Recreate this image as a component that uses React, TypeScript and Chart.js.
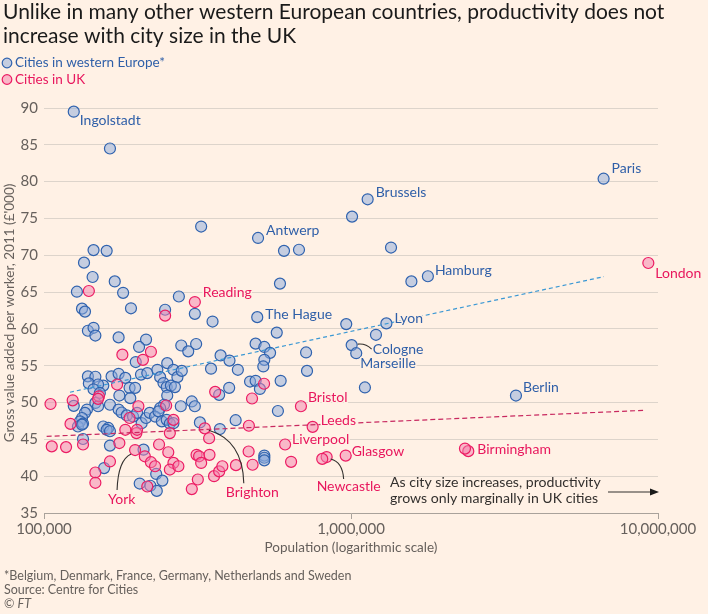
import React, { useEffect, useRef } from 'react';
import { Chart, registerables } from 'chart.js';
Chart.register(...registerables);

// ---------- DATA ----------
// Labelled European cities come first (names aligned with first entries)
const europeNames = ['Ingolstadt', 'Brussels', 'Antwerp', 'Paris', 'Hamburg', 'The Hague', 'Lyon', 'Cologne', 'Marseille', 'Berlin'];
const europePop = [
  125000, 1133000, 498000, 6650000, 1780000, 495000, 1304000, 1005000, 1040000, 3446000,
  164000, 325000, 145000, 135000, 160000, 144000, 170000, 128000, 133000, 136000,
  139000, 145000, 147000, 181000, 192000, 275000, 248000, 310000, 354000, 587000,
  573000, 175000, 215000, 204000, 199000, 280000, 295000, 313000, 376000, 402000,
  428000, 350000, 489000, 522000, 545000, 522000, 518000, 590000, 469000, 489000,
  505000, 401000, 372000, 578000, 421000, 374000, 322000, 522000, 522000, 522000,
  1008000, 605000, 677000, 1350000, 1573000, 965000, 1206000, 714000, 719000, 1110000,
  139000, 147000, 140000, 156000, 166000, 175000, 184000, 207000, 217000, 234000,
  239000, 252000, 264000, 272000, 281000, 150000, 145000, 152000, 190000, 198000,
  245000, 251000, 259000, 267000, 176000, 191000, 252000, 125000, 147000, 150000,
  164000, 246000, 239000, 279000, 303000, 310000, 138000, 136000, 133000, 131000,
  129000, 134000, 133000, 175000, 179000, 186000, 195000, 201000, 208000, 215000,
  221000, 230000, 236000, 242000, 251000, 257000, 264000, 156000, 162000, 160000,
  164000, 134000, 164000, 211000, 157000, 232000, 243000, 222000, 233000, 205000,
];
const europeGva = [
  89.5, 77.6, 72.35, 80.4, 67.15, 61.6, 60.75, 57.8, 56.7, 50.95,
  84.5, 73.9, 70.7, 69.0, 70.6, 67.05, 66.45, 65.05, 62.75, 62.35,
  59.75, 60.15, 59.1, 64.9, 62.8, 64.4, 62.6, 62.05, 61.0, 66.15,
  59.5, 58.85, 58.55, 57.55, 55.5, 57.75, 56.95, 57.95, 56.4, 55.7,
  54.45, 54.6, 58.0, 57.55, 56.75, 55.8, 54.9, 52.95, 52.85, 52.95,
  51.85, 52.0, 51.05, 48.85, 47.6, 46.4, 47.3, 42.8, 42.5, 42.15,
  75.25, 70.6, 70.75, 71.05, 66.45, 60.65, 59.2, 56.8, 54.3, 52.05,
  53.55, 53.5, 52.6, 52.3, 53.55, 53.9, 53.35, 53.8, 54.0, 54.45,
  53.45, 55.35, 54.45, 53.45, 54.3, 52.45, 51.8, 51.3, 52.0, 52.0,
  52.65, 52.1, 52.3, 52.1, 50.95, 50.6, 50.95, 49.55, 49.95, 49.5,
  49.7, 49.7, 49.25, 49.5, 50.15, 49.5, 49.05, 48.6, 47.9, 47.45,
  46.75, 47.15, 47.0, 49.05, 48.65, 48.25, 48.1, 48.6, 47.2, 47.9,
  48.6, 48.1, 48.8, 47.45, 47.65, 47.15, 47.2, 46.75, 46.55, 46.3,
  46.1, 45.05, 44.15, 43.6, 41.1, 40.3, 39.4, 38.7, 38.0, 39.0,
];

const ukNames = ['Reading', 'York', 'Brighton', 'Bristol', 'Leeds', 'Liverpool', 'Glasgow', 'Newcastle', 'Birmingham', 'London'];
const ukPop = [
  310000, 198000, 334000, 687000, 750000, 610000, 961000, 833000, 2410000, 9300000,
  806000, 2351000, 140000, 248000, 223000, 180000, 210000, 173000, 521000, 361000,
  476000, 151000, 150000, 105000, 124000, 122000, 106000, 118000, 134000, 147000,
  147000, 164000, 176000, 184000, 200000, 201000, 190000, 203000, 257000, 250000,
  264000, 237000, 213000, 223000, 230000, 254000, 264000, 257000, 274000, 217000,
  303000, 317000, 314000, 320000, 346000, 325000, 358000, 372000, 381000, 422000,
  345000, 465000, 464000, 478000, 638000,
];
const ukGva = [
  63.65, 43.55, 46.5, 49.5, 46.7, 44.3, 42.8, 42.6, 43.4, 68.95,
  42.35, 43.75, 65.15, 61.8, 56.9, 56.5, 55.8, 52.45, 52.55, 51.45,
  50.55, 50.85, 50.5, 49.8, 50.3, 47.1, 44.05, 43.95, 44.3, 40.5,
  39.1, 42.0, 44.5, 46.3, 45.85, 46.3, 47.9, 49.5, 45.85, 49.6,
  47.65, 44.3, 42.7, 41.9, 41.35, 43.25, 41.8, 40.9, 41.35, 38.6,
  38.25, 39.55, 42.9, 42.7, 42.9, 41.8, 40.0, 40.65, 41.35, 41.5,
  45.15, 46.85, 43.35, 41.55, 41.95,
];

// Trend lines (endpoints)
const europeTrendPop = [121500, 6670000];
const europeTrendGva = [51.4, 67.1];
const ukTrendPop = [102000, 9120000];
const ukTrendGva = [45.4, 48.95];

const xTickValues = [100000, 1000000, 10000000];
const yMin = 35;
const yMax = 90;

const titleLines = [
  'Unlike in many other western European countries, productivity does not',
  'increase with city size in the UK',
];
const legendLabels = ['Cities in western Europe*', 'Cities in UK'];
const noteLines = ['As city size increases, productivity', 'grows only marginally in UK cities'];
const footLines = ['*Belgium, Denmark, France, Germany, Netherlands and Sweden', 'Source: Centre for Cities'];
const yTitle = "Gross value added per worker, 2011 (£'000)";
const xTitle = 'Population (logarithmic scale)';

// ---------- STYLE ----------
const FONT = 'Lato, "Noto Sans", sans-serif';
const BG = '#fff1e5';
const BLUE_FILL = 'rgba(139,169,219,0.5)';
const BLUE_LINE = '#2f62ae';
const BLUE_TEXT = '#2f5fa8';
const RED_FILL = 'rgba(243,127,171,0.5)';
const RED_LINE = '#ec1c63';
const RED_TEXT = '#e8175d';
const GREY_TEXT = '#66605c';
const DARK_TEXT = '#33302e';

const labelStyle: Record<string, { dx: number; dy: number }> = {
  Ingolstadt: { dx: 6, dy: 9 },
  Brussels: { dx: 8, dy: -7 },
  Antwerp: { dx: 8, dy: -7 },
  Paris: { dx: 8, dy: -10 },
  Hamburg: { dx: 7, dy: -6 },
  'The Hague': { dx: 8, dy: -3 },
  Lyon: { dx: 8, dy: -5 },
  Cologne: { dx: 21, dy: 4 },
  Marseille: { dx: 4, dy: 10 },
  Berlin: { dx: 7, dy: -8 },
  Reading: { dx: 8, dy: -10 },
  York: { dx: -27, dy: 49 },
  Brighton: { dx: 21, dy: 64 },
  Bristol: { dx: 7, dy: -9 },
  Leeds: { dx: 8, dy: -6 },
  Liverpool: { dx: 7, dy: -5 },
  Glasgow: { dx: 6, dy: -4 },
  Newcastle: { dx: -10, dy: 29 },
  Birmingham: { dx: 9, dy: -2 },
  London: { dx: 7, dy: 10 },
};

// leader curves: start, control, end offsets relative to point
const leaders: Record<string, number[]> = {
  York: [-4, 4, -17, 10, -18, 40],
  Brighton: [4, 2, 38, 12, 39, 55],
  Cologne: [6, -1, 14, -2, 20, 4],
  Newcastle: [4, 2, 16, 5, 17, 22],
};

const decorPlugin = {
  id: 'decor',
  beforeDraw(chart: any) {
    const ctx = chart.ctx;
    ctx.save();
    ctx.fillStyle = BG;
    ctx.fillRect(0, 0, chart.width, chart.height);
    ctx.restore();
  },
  afterDatasetsDraw(chart: any) {
    const ctx = chart.ctx;
    const xs = chart.scales.x;
    const ys = chart.scales.y;
    ctx.save();
    ctx.font = `14px ${FONT}`;
    ctx.textBaseline = 'middle';
    ctx.textAlign = 'left';
    ctx.lineJoin = 'round';
    const drawLabel = (name: string, pop: number, gva: number, color: string) => {
      const px = xs.getPixelForValue(pop);
      const py = ys.getPixelForValue(gva);
      const st = labelStyle[name];
      const ld = leaders[name];
      if (ld) {
        ctx.beginPath();
        ctx.strokeStyle = '#33302e';
        ctx.lineWidth = 1.1;
        ctx.moveTo(px + ld[0], py + ld[1]);
        ctx.quadraticCurveTo(px + ld[2], py + ld[3], px + ld[4], py + ld[5]);
        ctx.stroke();
      }
      ctx.strokeStyle = BG;
      ctx.lineWidth = 3;
      ctx.strokeText(name, px + st.dx, py + st.dy);
      ctx.fillStyle = color;
      ctx.fillText(name, px + st.dx, py + st.dy);
    };
    europeNames.forEach((n, i) => drawLabel(n, europePop[i], europeGva[i], BLUE_TEXT));
    ukNames.forEach((n, i) => drawLabel(n, ukPop[i], ukGva[i], RED_TEXT));

    // note and arrow
    ctx.fillStyle = DARK_TEXT;
    ctx.font = `14.1px ${FONT}`;
    ctx.textBaseline = 'alphabetic';
    ctx.fillText(noteLines[0], 390, 487);
    ctx.fillText(noteLines[1], 390, 503);
    ctx.strokeStyle = '#33302e';
    ctx.lineWidth = 1.2;
    ctx.beginPath();
    ctx.moveTo(608, 492);
    ctx.lineTo(652, 492);
    ctx.stroke();
    ctx.fillStyle = '#1a1a1a';
    ctx.beginPath();
    ctx.moveTo(659, 492);
    ctx.lineTo(650, 488.5);
    ctx.lineTo(650, 495.5);
    ctx.closePath();
    ctx.fill();
    ctx.restore();
  },
  afterDraw(chart: any) {
    const ctx = chart.ctx;
    ctx.save();
    ctx.textBaseline = 'alphabetic';
    ctx.textAlign = 'left';
    // title
    ctx.fillStyle = '#1a1a1a';
    ctx.font = `21px ${FONT}`;
    ctx.fillText(titleLines[0], 3, 19);
    ctx.fillText(titleLines[1], 3, 43);
    // legend
    const legendItems = [
      { y: 63, fill: BLUE_FILL, line: BLUE_LINE, text: BLUE_TEXT, label: legendLabels[0] },
      { y: 79.5, fill: RED_FILL, line: RED_LINE, text: RED_TEXT, label: legendLabels[1] },
    ];
    ctx.font = `13.5px ${FONT}`;
    legendItems.forEach((it) => {
      ctx.beginPath();
      ctx.arc(7, it.y, 4.8, 0, Math.PI * 2);
      ctx.fillStyle = it.fill;
      ctx.fill();
      ctx.strokeStyle = it.line;
      ctx.lineWidth = 1.2;
      ctx.stroke();
      ctx.fillStyle = it.text;
      ctx.textBaseline = 'middle';
      ctx.fillText(it.label, 15, it.y);
    });
    // axis titles
    ctx.fillStyle = GREY_TEXT;
    ctx.font = `13.5px ${FONT}`;
    ctx.textAlign = 'center';
    ctx.textBaseline = 'middle';
    ctx.fillText(xTitle, 351, 548);
    ctx.save();
    ctx.translate(9.5, 313);
    ctx.rotate(-Math.PI / 2);
    ctx.fillText(yTitle, 0, 0);
    ctx.restore();
    // footnotes
    ctx.textAlign = 'left';
    ctx.textBaseline = 'alphabetic';
    ctx.font = `12.5px ${FONT}`;
    ctx.fillText(footLines[0], 4, 580);
    ctx.fillText(footLines[1], 4, 594);
    ctx.fillText('© ', 4, 608);
    const w = ctx.measureText('© ').width;
    ctx.font = `italic 12.5px ${FONT}`;
    ctx.fillText('FT', 4 + w, 608);
    ctx.restore();
  },
};

export default function App() {
  const ref = useRef<HTMLCanvasElement>(null);
  useEffect(() => {
    document.body.style.margin = '0';
    document.body.style.background = BG;
    const toPts = (xs: number[], ys: number[]) => xs.map((x, i) => ({ x, y: ys[i] }));
    const chart = new Chart(ref.current as HTMLCanvasElement, {
      type: 'scatter',
      data: {
        datasets: [
          {
            data: toPts(europeTrendPop, europeTrendGva),
            showLine: true,
            borderColor: '#3b98d4',
            borderWidth: 1.2,
            borderDash: [4, 3],
            pointRadius: 0,
            clip: false,
          } as any,
          {
            data: toPts(ukTrendPop, ukTrendGva),
            showLine: true,
            borderColor: '#c8285f',
            borderWidth: 1.2,
            borderDash: [5, 3],
            pointRadius: 0,
            clip: false,
          } as any,
          {
            data: toPts(ukPop, ukGva),
            backgroundColor: RED_FILL,
            borderColor: RED_LINE,
            borderWidth: 1.2,
            pointRadius: 5.5,
            clip: false,
          } as any,
          {
            data: toPts(europePop, europeGva),
            backgroundColor: BLUE_FILL,
            borderColor: BLUE_LINE,
            borderWidth: 1.2,
            pointRadius: 5.5,
            clip: false,
          } as any,
        ],
      },
      options: {
        responsive: false,
        animation: false,
        devicePixelRatio: 1,
        layout: { padding: { top: 108, right: 50, left: 0, bottom: 0 } },
        plugins: { legend: { display: false }, tooltip: { enabled: false }, title: { display: false } },
        scales: {
          x: {
            type: 'logarithmic',
            min: 100000,
            max: 10000000,
            afterBuildTicks: (s: any) => {
              s.ticks = xTickValues.map((v) => ({ value: v }));
            },
            afterFit: (s: any) => {
              s.height = 101;
            },
            ticks: {
              autoSkip: false,
              maxRotation: 0,
              padding: 1,
              color: GREY_TEXT,
              font: { family: FONT, size: 15 },
              callback: (v: any) => Number(v).toLocaleString('en-US'),
            },
            grid: { drawOnChartArea: false, drawTicks: true, tickLength: 6, color: '#a9a29b' },
            border: { display: true, color: '#a9a29b', width: 1 },
          },
          y: {
            min: yMin,
            max: yMax,
            afterFit: (s: any) => {
              s.width = 44;
            },
            ticks: {
              stepSize: 5,
              padding: 6,
              color: GREY_TEXT,
              font: { family: FONT, size: 15 },
            },
            grid: { drawTicks: false, color: '#ddd4cb', lineWidth: 1 },
            border: { display: false },
          },
        },
      } as any,
      plugins: [decorPlugin],
    });
    return () => chart.destroy();
  }, []);
  return (
    <div style={{ width: 708, height: 614, background: BG }}>
      <canvas ref={ref} width={708} height={614} style={{ display: 'block' }} />
    </div>
  );
}
